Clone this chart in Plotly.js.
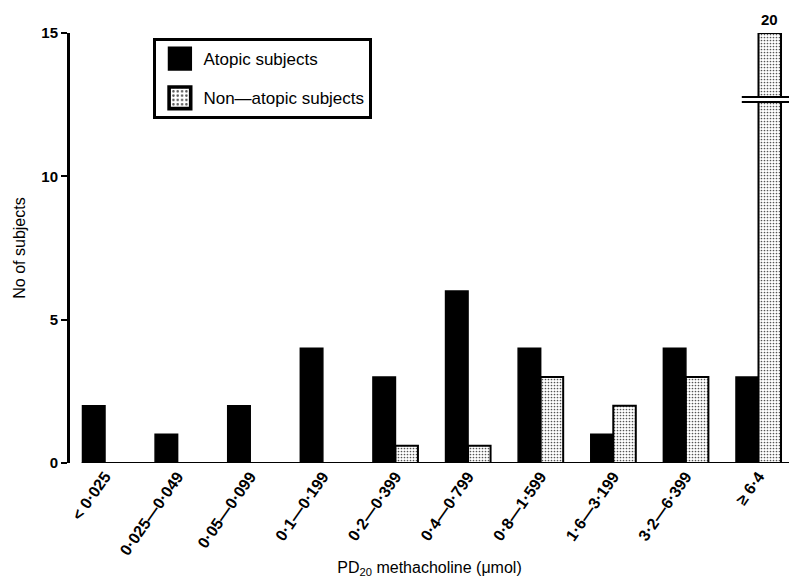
<!DOCTYPE html>
<html><head><meta charset="utf-8">
<script src="https://cdn.plot.ly/plotly-3.0.1.min.js"></script>
<style>body{margin:0;background:#fff}#c{width:789px;height:578px}</style>
</head><body><div id="c"></div>
<script>
const categories = ["< 0·025","0·025—0·049","0·05—0·099","0·1—0·199","0·2—0·399","0·4—0·799","0·8—1·599","1·6—3·199","3·2—6·399","≥ 6·4"];
const atopic = [2,1,2,4,3,6,4,1,4,3];
const nonAtopic = [0,0,0,0,0.6,0.6,3,2,3,20];
const yTicks = [0,5,10,15];
const axisCap = 15;   // broken axis: values above the cap are drawn at the cap and labelled

const idx = categories.map((_, i) => i);
const shown = arr => arr.map(v => Math.min(v, axisCap));
const traces = [
  {type:'bar', name:'Atopic subjects', legendgroup:'a', x: idx, y: shown(atopic),
   marker:{color:'#000', line:{color:'#000', width:1.5}}},
  {type:'bar', name:'Non—atopic subjects', legendgroup:'b', x: idx, y: shown(nonAtopic),
   marker:{color:'#fff', line:{color:'#000', width:2},
     pattern:{shape:'.', fgcolor:'#555', bgcolor:'#fff', size:3, solidity:0.25}}}
];
const overIdx = nonAtopic.findIndex(v => v > axisCap);
const font = "Liberation Sans, Arial, sans-serif";
const layout = {
  width:789, height:578,
  margin:{l:70, r:0, t:33, b:115},
  paper_bgcolor:'#fff', plot_bgcolor:'#fff',
  barmode:'group', bargap:0.38, bargroupgap:0,
  font:{family:font, color:'#000'},
  showlegend:true,
  legend:{x:0.116, y:0.988, xanchor:'left', yanchor:'top',
    bordercolor:'#000', borderwidth:3, bgcolor:'#fff',
    font:{size:17, family:font}, tracegroupgap:14, itemwidth:37},
  xaxis:{range:[-0.482, 9.42], tickmode:'array', tickvals: idx, ticktext: categories,
    tickangle:-55, tickfont:{size:16, family:font, weight:'bold'},
    showline:false, ticks:'', showgrid:false, zeroline:false, automargin:false,
    title:{text:'PD<sub>20</sub> methacholine (μmol)', font:{size:16, family:font}, standoff:7}},
  yaxis:{range:[0,15], tickmode:'array', tickvals: yTicks,
    tickfont:{size:15, family:font, weight:'bold'},
    showline:true, linecolor:'#000', linewidth:3, ticks:'outside', ticklen:6, tickwidth:2, tickcolor:'#000',
    showgrid:false, zeroline:false,
    title:{text:'No of subjects', font:{size:16, family:font}, standoff:12}},
  shapes:[
    {type:'line', xref:'x', yref:'y', x0:-0.32, x1:9.42, y0:0, y1:0, line:{color:'#000', width:2}},
    {type:'rect', xref:'x', yref:'y', x0:8.77, x1:9.42, y0:12.59, y1:12.77, fillcolor:'#fff', line:{width:0}},
    {type:'line', xref:'x', yref:'y', x0:8.77, x1:9.42, y0:12.77, y1:12.77, line:{color:'#000', width:2}},
    {type:'line', xref:'x', yref:'y', x0:8.77, x1:9.42, y0:12.59, y1:12.59, line:{color:'#000', width:2}}
  ],
  annotations: overIdx >= 0 ? [
    {x: overIdx + 0.15, y: axisCap, xref:'x', yref:'y', text: String(nonAtopic[overIdx]), showarrow:false,
     yanchor:'bottom', yshift:3, font:{size:15, family:font, weight:'bold'}}
  ] : []
};
Plotly.newPlot('c', traces, layout, {displayModeBar:false, staticPlot:true}).then(gd => {
  gd.querySelectorAll('.legend .legendpoints path').forEach(p => {
    const t = p.getAttribute('transform') || '';
    p.setAttribute('transform', t + ' scale(1.8)');
  });
});
</script></body></html>
